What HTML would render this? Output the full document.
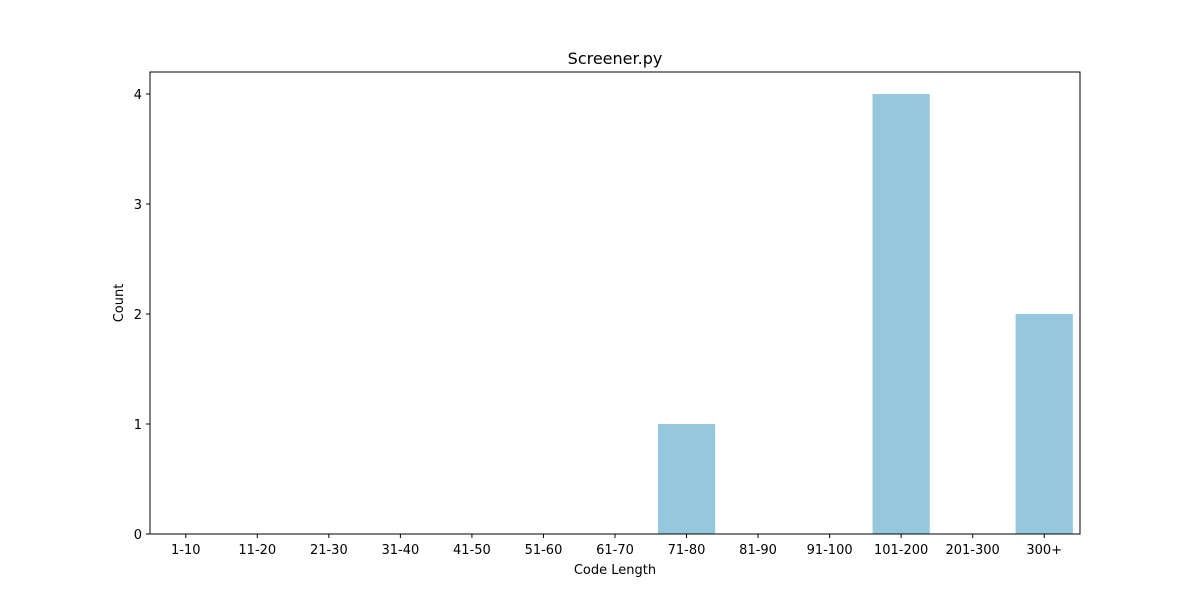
<!DOCTYPE html>
<html><head><meta charset="utf-8"><style>
body{margin:0;background:#fff;font-family:"Liberation Sans","DejaVu Sans",sans-serif}
</style></head><body>
<svg width="1200" height="600" xmlns="http://www.w3.org/2000/svg" font-family="DejaVu Sans, Liberation Sans, sans-serif">
<rect width="1200" height="600" fill="#fff"/>
<text x="615" y="64" text-anchor="middle" font-size="16">Screener.py</text>
<g id="bars"></g>
<g id="xt"></g>
<g id="yt"></g>
<rect x="150" y="72" width="930" height="462" fill="none" stroke="#000" stroke-width="1"/>
<text x="615" y="574" text-anchor="middle" font-size="13">Code Length</text>
<text transform="translate(123,303) rotate(-90)" text-anchor="middle" font-size="13">Count</text>
</svg>
<script>
const categories=["1-10","11-20","21-30","31-40","41-50","51-60","61-70","71-80","81-90","91-100","101-200","201-300","300+"];
const counts=[0,0,0,0,0,0,0,1,0,0,4,0,2];
const yTicks=[0,1,2,3,4];
const NS="http://www.w3.org/2000/svg";
const L=150,R=1080,T=72,B=534,yMax=4.2;
const band=(R-L)/categories.length;
const xc=i=>L+(i+0.5)*band;
const y=v=>B-(v/yMax)*(B-T);
function mk(tag,attrs,parent){const e=document.createElementNS(NS,tag);for(const k in attrs)e.setAttribute(k,attrs[k]);parent.appendChild(e);return e;}
const gb=document.getElementById('bars'),gx=document.getElementById('xt'),gy=document.getElementById('yt');
categories.forEach((c,i)=>{
  const w=band*0.8;
  const r=mk('rect',{x:xc(i)-w/2,y:y(counts[i]),width:w,height:B-y(counts[i]),fill:'#95c8dc'},gb);
  
  
  const t=mk('line',{x1:xc(i),x2:xc(i),y1:B,y2:B+4,stroke:'#000'},gx);
  
  
  const tx=mk('text',{x:xc(i),y:B+20,'text-anchor':'middle','font-size':'13'},gx);
  tx.textContent=c;
  
  
});
yTicks.forEach(v=>{
  const t=mk('line',{x1:L-4,x2:L,y1:y(v),y2:y(v),stroke:'#000'},gy);
  
  
  const tx=mk('text',{x:L-8,y:y(v)+5,'text-anchor':'end','font-size':'13'},gy);
  tx.textContent=v;
  
  
});
</script>
</body></html>
